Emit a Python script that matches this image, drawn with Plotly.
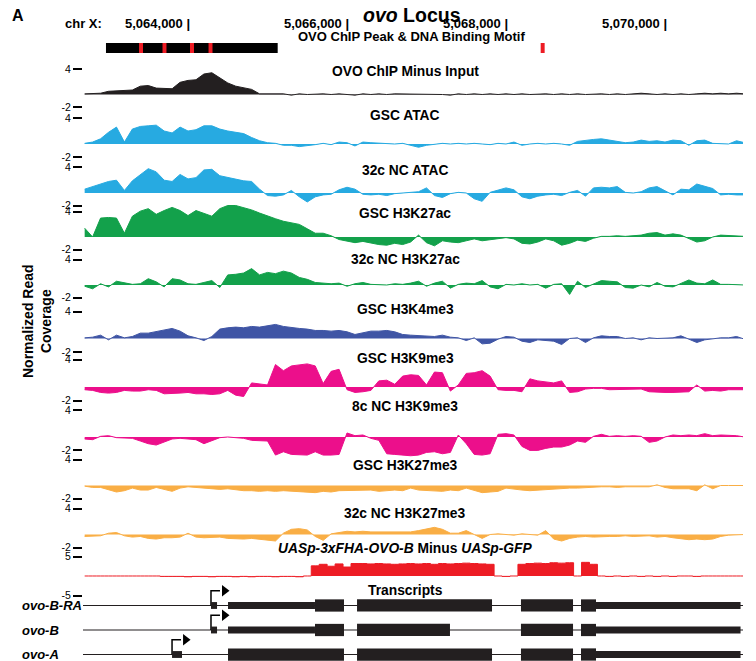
import plotly.graph_objects as go

FONT = "Arial, Liberation Sans, sans-serif"
W, H = 756, 661
PAGE_OFFSET = 8          # page body margin, figure is drawn inside it
FW, FH = W - PAGE_OFFSET, H - PAGE_OFFSET

# genome window on chr X, signal sampled in 100 bp bins
view_start = 5062629
view_end = 5070931
bin_start = 5062650
bin_size = 100
coords = [bin_start + bin_size * i for i in range(84)]

coord_ticks = [5064000, 5066000, 5068000, 5070000]

# OVO ChIP peak and binding motifs
peak_start, peak_end = 5062918, 5065078
motif_sites = [5063359, 5063654, 5064000, 5064233, 5068411]
motif_width = 50

track_names = [
    "OVO ChIP Minus Input", "GSC ATAC", "32c NC ATAC", "GSC H3K27ac",
    "32c NC H3K27ac", "GSC H3K4me3", "GSC H3K9me3", "8c NC H3K9me3",
    "GSC H3K27me3", "32c NC H3K27me3",
    "<i>UASp-3xFHA-OVO-B</i> Minus <i>UASp-GFP</i>",
]
track_colors = ["#231f20", "#27aae1", "#27aae1", "#13a14b", "#13a14b", "#3f55a5",
                "#ec0f8b", "#ec0f8b", "#f9ae45", "#f9ae45", "#ed1c24"]

ovo_chip = [0.1, 0.1, 0.2, 0.5, 0.6, 0.6, 0.7, 1.3, 1.4, 1.0, 1.0, 0.9,
            1.9, 2.2, 2.3, 3.2, 3.4, 2.6, 1.8, 1.3, 1.0, 0.8, 0.1, 0.1,
            0.0, 0.1, -0.1, 0.1, 0.0, 0.1, 0.1, 0.0, 0.1, 0.0, -0.1, 0.1,
            0.0, 0.1, 0.0, 0.1, 0.1, 0.0, 0.1, 0.0, 0.1, 0.0, -0.1, 0.1,
            0.0, 0.1, 0.0, 0.1, 0.0, 0.1, 0.0, 0.1, 0.0, 0.1, 0.1, 0.0,
            0.1, 0.0, 0.1, 0.0, 0.1, 0.1, 0.0, 0.1, 0.0, 0.1, 0.2, 0.1,
            0.0, 0.1, 0.0, 0.1, 0.0, 0.1, 0.2, 0.1, 0.2, 0.1, 0.2, 0.1]

gsc_atac = [0.1, 0.3, 0.8, 1.8, 2.6, 0.3, 2.3, 2.7, 2.8, 2.9, 2.0, 1.7,
            2.6, 2.0, 2.2, 2.8, 2.8, 2.3, 2.0, 1.8, 1.6, 1.0, 0.5, 0.2,
            0.1, -0.2, -0.2, -0.4, -0.3, -0.1, 0.1, -0.1, 0.3, 0.2, -0.3, 0.3,
            0.2, 0.1, 0.1, 0.0, 0.1, -0.2, -0.5, -0.2, 0.0, 0.1, 0.0, 0.1,
            0.0, 0.1, 0.0, -0.1, 0.1, 0.0, 0.3, -0.2, 0.0, 0.1, 0.0, 0.1,
            0.0, -0.2, 0.4, 0.6, 0.7, 0.8, 0.6, 0.5, 0.2, 0.3, 0.6, 0.4,
            0.5, 0.3, 0.6, 0.5, -0.2, 0.5, 0.6, 0.1, 0.1, 0.0, 0.5, 0.2]

nc32_atac = [0.6, 1.0, 1.4, 1.8, 2.0, 0.4, 1.9, 2.8, 3.8, 3.3, 2.0, 1.8,
             2.9, 2.2, 2.4, 3.6, 3.7, 2.7, 2.4, 2.1, 1.9, 1.8, 0.6, -0.4,
             -0.5, -0.3, 0.4, -0.6, -1.4, -0.6, -0.3, -0.2, 0.5, 0.9, 0.6, -0.2,
             -0.3, -0.2, -0.4, -0.1, 0.0, 0.1, 0.2, 0.8, -0.4, -0.7, -0.1, 0.1,
             0.0, -0.9, -1.3, 0.1, 0.4, 0.8, 0.5, -0.6, -0.9, -0.5, -0.3, -0.2,
             -0.4, 0.1, 0.4, -0.5, 0.8, 0.9, 0.8, 1.0, 0.1, 0.0, 0.2, 0.8,
             1.0, 0.3, -0.3, 0.6, 0.5, 1.4, 1.0, 0.7, -0.3, -0.2, -0.3, -0.3]

gsc_k27ac = [1.4, 0.0, 3.0, 3.1, 3.0, 0.6, 3.3, 4.1, 4.5, 3.6, 4.2, 4.7,
             4.2, 3.4, 4.2, 3.8, 3.3, 4.5, 5.0, 5.0, 4.7, 4.3, 3.8, 3.3,
             2.9, 2.5, 2.2, 2.0, 1.3, 0.6, 0.6, 0.2, -0.4, -0.6, -0.9, -0.7,
             -1.0, -1.2, -1.3, -1.0, -1.2, -0.8, 0.3, -0.9, -1.4, -0.6, -0.8, -0.9,
             -0.6, -0.3, -0.6, -0.4, -0.2, -0.1, -0.3, -1.0, -1.1, -0.8, -0.3, -0.6,
             -1.3, -1.0, -0.5, -0.7, -0.2, 0.1, 0.1, 0.2, 0.1, 0.2, 0.3, 0.6,
             0.7, 0.3, 0.5, 0.3, -0.3, -0.8, -0.6, 0.0, 0.3, 0.2, 0.1, 0.1]

nc32_k27ac = [-0.2, -0.6, 0.2, -0.3, 0.6, 0.4, 0.1, 0.2, 1.0, 0.5, -0.3, 1.0,
              0.8, 0.2, 0.1, 0.4, 0.7, -0.4, 1.6, 1.7, 1.9, 2.6, 1.6, 2.0,
              1.8, 2.2, 1.9, 1.2, 0.9, 0.4, 0.3, 0.2, 0.3, -0.2, 0.2, 0.4,
              0.1, 0.1, 0.0, 0.2, 0.1, 0.3, 0.6, -0.2, 0.3, 0.6, -0.5, 0.1,
              0.3, 0.2, 0.7, -0.3, -0.6, 0.1, 0.0, 0.2, 0.0, 0.1, -0.5, 0.1,
              0.2, -1.5, 0.6, -0.4, 0.2, 0.7, 0.6, 0.5, -0.4, -0.5, 0.0, -0.3,
              0.4, -0.2, -0.3, 0.3, 0.8, 0.3, 0.2, 0.8, 0.1, 0.1, 0.1, 0.0]

gsc_k4me3 = [0.1, 0.2, 0.5, -0.2, 0.5, 0.1, 0.3, 0.8, 0.8, 1.0, 1.3, 1.5,
             1.1, 0.4, 0.1, -0.3, 0.3, 1.4, 1.6, 1.7, 1.6, 1.8, 1.7, 1.9,
             2.1, 1.8, 1.6, 1.5, 1.4, 1.2, 1.2, 1.1, 1.2, 1.0, 0.6, 0.9,
             1.1, 1.1, 1.2, 1.0, 0.6, 0.5, 0.4, 0.4, 0.3, 0.5, 0.2, 0.1,
             -0.3, 0.1, -0.8, -0.7, -0.1, 0.3, 0.2, -0.4, -0.6, -0.2, -0.3, -0.4,
             -0.9, 0.0, 0.1, -0.6, 0.1, 0.4, 0.3, 0.3, 0.0, 0.1, -0.2, 0.1,
             0.0, 0.1, 0.1, 0.4, -0.1, -0.6, -0.2, 0.0, 0.1, 0.1, 0.3, -0.1]

gsc_k9me3 = [-0.4, -0.5, -0.8, -0.9, -0.8, -0.5, -0.6, -0.6, -0.4, -0.5, -1.0, -1.0,
             -0.9, -0.8, -1.0, -1.0, -1.1, -1.0, -0.5, -1.2, -1.4, 0.6, 0.4, 0.3,
             3.3, 2.4, 3.1, 3.3, 3.4, 3.1, 0.5, 2.3, 2.6, -0.4, -0.8, -0.7,
             -0.5, 0.9, 1.0, 0.4, 1.6, 1.8, 1.7, 0.3, 2.2, 2.1, -0.6, 0.3,
             2.0, 2.1, 2.4, 1.6, -0.4, -0.5, -0.5, -0.7, 1.2, 0.9, 0.7, 0.6,
             0.9, -0.8, -0.7, -0.3, -0.2, -0.2, -0.4, -0.4, -0.4, -0.3, -0.3, -0.7,
             -0.8, -0.8, -0.8, -0.8, -0.7, 0.3, -0.6, -0.5, -0.6, -0.4, -0.4, -0.4]

nc8_k9me3 = [-0.3, -0.4, 0.1, 0.2, -0.1, -0.1, -0.2, -0.6, -1.0, -1.2, -0.8, -0.3,
             -0.2, -0.3, -0.4, -1.0, -0.5, -0.1, 0.0, -0.1, -0.2, -0.5, -0.5, -0.6,
             -2.7, -2.2, -2.6, -2.7, -2.7, -2.2, -2.7, -2.7, -2.6, 0.6, 0.2, 0.3,
             -0.2, -0.5, -2.5, -2.6, -2.7, -2.8, -2.7, -2.3, -2.2, -2.5, -2.3, 0.3,
             -1.0, -2.6, -2.7, -2.5, 0.4, 0.5, 0.3, -1.4, -2.0, -2.0, -1.7, -1.5,
             -1.5, -1.2, -0.6, -0.8, 0.1, 0.4, 0.1, 0.2, 0.1, 0.2, 0.1, -0.8,
             -0.6, 0.0, 0.3, 0.2, 0.3, 0.2, 0.5, 0.2, 0.3, 0.3, 0.2, 0.0]

gsc_k27me3 = [-0.1, -0.3, -0.3, -0.6, -1.0, -0.8, -0.4, -0.7, -0.7, -0.3, -0.6, -0.9,
              -0.4, -0.2, -0.3, -0.4, -0.5, -0.6, -0.5, -0.7, -0.8, -0.8, -0.9, -0.8,
              -0.9, -0.8, -0.9, -1.0, -1.0, -1.1, -0.9, -1.0, -0.8, -0.8, -0.7, -0.8,
              -0.7, -0.9, -0.8, -0.7, -0.8, -0.4, -0.7, -0.8, -0.8, -0.9, -0.7, -0.8,
              -0.4, -0.8, -1.1, -1.0, -0.9, -0.4, -0.6, -0.7, -0.8, -0.7, -0.6, -0.5,
              -0.4, -0.4, -0.4, -0.3, -0.3, -0.2, -0.2, -0.3, -0.2, -0.2, -0.1, -0.2,
              0.1, -0.3, -0.5, -0.5, -0.5, -0.8, 0.1, -0.5, 0.0, 0.0, 0.0, 0.0]

nc32_k27me3 = [-0.3, -0.3, -0.2, 0.2, 0.3, -0.2, -0.4, -0.3, -0.6, -0.7, -0.5, -0.5,
               -0.4, 0.2, -0.4, -0.5, -0.5, -0.4, -0.6, -0.7, -0.7, -0.6, -0.7, -0.8,
               -1.0, 0.2, 0.8, 0.9, 0.7, -0.3, -0.9, 0.1, 0.3, 0.5, 0.4, 0.5,
               0.4, 0.4, 0.3, 0.4, 0.3, 0.4, 0.6, 0.9, 1.1, 0.8, 0.2, 0.2,
               0.6, 0.0, -0.6, 0.0, 0.1, 0.0, -0.1, 0.1, 0.0, -0.1, 0.6, -0.7,
               -1.0, -0.6, -0.4, -0.3, -0.4, -0.3, -0.3, -0.3, -0.2, -0.3, -0.3, -0.2,
               -0.4, -0.3, -0.5, -0.6, -0.8, -0.7, -0.8, -0.7, -0.3, -0.1, 0.0, 0.0]

ovo_b_minus_gfp = [0.0, 0.0, 0.0, 0.0, 0.0, 0.0, 0.0, 0.0, 0.0, 0.0, -0.1, -0.1,
                   -0.1, -0.2, -0.1, -0.1, -0.2, -0.1, -0.1, -0.2, -0.1, -0.2, -0.1, -0.1,
                   -0.2, -0.1, -0.1, -0.2, 0.0, 2.6, 3.0, 2.5, 3.1, 2.3, 3.2, 3.2,
                   3.1, 3.2, 3.1, 3.0, 3.1, 3.2, 3.1, 3.2, 3.0, 3.2, 3.1, 3.2,
                   3.3, 3.2, 3.1, 3.0, 0.0, -0.1, 0.0, 3.0, 3.2, 3.3, 3.2, 3.4,
                   3.3, 3.4, 0.0, 3.5, 3.0, 0.0, -0.1, 0.0, -0.1, 0.0, -0.1, 0.0,
                   -0.1, 0.0, -0.1, 0.0, 0.0, -0.1, 0.0, 0.0, 0.0, 0.0, 0.0, 0.0]

track_values = [ovo_chip, gsc_atac, nc32_atac, gsc_k27ac, nc32_k27ac, gsc_k4me3,
                gsc_k9me3, nc8_k9me3, gsc_k27me3, nc32_k27me3, ovo_b_minus_gfp]

# transcripts: (start, end, kind)
transcript_names = ["ovo-B-RA", "ovo-B", "ovo-A"]
transcript_tss = [5064239, 5064239, 5063749]
ovo_b_ra_exons = [(5064239, 5064315, "utr"), (5064453, 5065547, "utr"), (5065547, 5065912, "cds"),
                  (5066076, 5067774, "cds"), (5068138, 5068793, "cds"), (5068893, 5069082, "cds"),
                  (5069082, 5070900, "utr")]
ovo_b_exons = [(5064239, 5064315, "utr"), (5064453, 5065547, "utr"), (5065547, 5065912, "cds"),
               (5066076, 5067245, "cds"), (5068138, 5068793, "cds"), (5068893, 5069082, "cds"),
               (5069082, 5070900, "utr")]
ovo_a_exons = [(5063749, 5063874, "utr"), (5064453, 5065912, "cds"), (5066076, 5067774, "cds"),
               (5068138, 5068793, "cds"), (5068893, 5069082, "cds"), (5069082, 5070900, "utr")]
transcript_exons = [ovo_b_ra_exons, ovo_b_exons, ovo_a_exons]

# layout geometry, in page pixels
track_zero_px = [94.5, 144, 193, 237, 285, 338.5, 387, 437, 485.5, 534.5, 576]
track_ppu = [6.4, 6.5, 6.4, 6.3, 6.3, 6.7, 6.8, 6.7, 6.5, 6.5, 3.9]
track_label_px = [71, 116, 170, 213, 260, 309, 358, 406, 465, 513, 548]


def fx(p):
    return (p - PAGE_OFFSET) / FW


def fy(p):
    return 1 - (p - PAGE_OFFSET) / FH


fig = go.Figure()

for k, (color, vals) in enumerate(zip(track_colors, track_values), start=1):
    fig.add_trace(go.Scatter(
        x=coords, y=vals, xaxis="x", yaxis="y" if k == 1 else f"y{k}",
        mode="lines", line=dict(color=color, width=1, shape="hvh" if k == 11 else "linear"),
        fill="tozeroy", fillcolor=color, hoverinfo="skip", showlegend=False,
    ))

layout = dict(
    width=FW, height=FH, margin=dict(l=0, r=0, t=0, b=0),
    paper_bgcolor="white", plot_bgcolor="rgba(0,0,0,0)",
    font=dict(family=FONT, color="black"),
    xaxis=dict(domain=[fx(83), fx(743)], range=[view_start, view_end], visible=False, fixedrange=True),
)

for k in range(1, 12):
    zero, ppu = track_zero_px[k - 1], track_ppu[k - 1]
    if k == 11:
        lo, hi, tv = -6, 6, [5, -5]
    else:
        lo, hi, tv = -3.2, 5.6, [4, -2]
    top = zero - hi * ppu
    bot = zero - lo * ppu
    key = "yaxis" if k == 1 else f"yaxis{k}"
    layout[key] = dict(
        domain=[max(0, fy(bot)), min(1, fy(top))], range=[lo, hi], anchor="x",
        tickvals=tv, ticktext=[str(t) for t in tv], ticks="outside", ticklen=9,
        tickwidth=1.5, tickcolor="black", tickfont=dict(family=FONT, size=10.5, color="black"),
        showgrid=False, zeroline=False, showline=False, fixedrange=True, automargin=False,
    )

# transcript axis: rows 0..2
layout["yaxis12"] = dict(domain=[0, fy(580)], range=[2.265, -1.04], anchor="x",
                         visible=False, fixedrange=True)

shapes = []
for row, exons in enumerate(transcript_exons):
    fig.add_trace(go.Scatter(x=[view_start, view_end], y=[row, row], xaxis="x", yaxis="y12",
                             mode="lines", line=dict(color="#231f20", width=1.2),
                             hoverinfo="skip", showlegend=False))
    for s, e, kind in exons:
        half = 0.25 if kind == "cds" else 0.14
        shapes.append(dict(type="rect", xref="x", yref="y12", x0=s, x1=e,
                           y0=row - half, y1=row + half, fillcolor="#231f20", line=dict(width=0)))
    t = transcript_tss[row]
    fig.add_trace(go.Scatter(x=[t, t, t + 113], y=[row, row - 0.6, row - 0.6], xaxis="x", yaxis="y12",
                             mode="lines", line=dict(color="black", width=1.5),
                             hoverinfo="skip", showlegend=False))
    fig.add_trace(go.Scatter(x=[t + 170], y=[row - 0.6], xaxis="x", yaxis="y12", mode="markers",
                             marker=dict(symbol="triangle-right", size=10, color="black"),
                             hoverinfo="skip", showlegend=False))

# peak and motifs
shapes.append(dict(type="rect", xref="x", yref="paper", x0=peak_start, x1=peak_end,
                   y0=fy(53), y1=fy(43), fillcolor="black", line=dict(width=0)))
for m in motif_sites:
    shapes.append(dict(type="rect", xref="x", yref="paper", x0=m - motif_width / 2, x1=m + motif_width / 2,
                       y0=fy(53), y1=fy(43), fillcolor="#ed1c24", line=dict(width=0)))
layout["shapes"] = shapes


def label(text, x, y, size, xanchor="center", xref="paper", yref="paper", **kw):
    return dict(text=text, x=x, y=y, xref=xref, yref=yref, xanchor=xanchor, yanchor="middle",
                showarrow=False, font=dict(size=size), **kw)


ann = [
    label("<b>A</b>", fx(10), fy(16), 16, xanchor="left"),
    label("<b><i>ovo</i> Locus</b>", fx(412), fy(15), 19.5),
    label("<b>chr X:</b>", fx(63), fy(23), 13, xanchor="left"),
]
for c in coord_ticks:
    ann.append(label(f"<b>{c:,} |</b>", c, fy(23.5), 13, xanchor="right", xref="x"))
ann.append(label("<b>OVO ChIP Peak &amp; DNA Binding Motif</b>", fx(411), fy(36.5), 13))
for name, ly in zip(track_names, track_label_px):
    ann.append(label(f"<b>{name}</b>", fx(405), fy(ly), 13.8))
ann.append(label("<b>Transcripts</b>", fx(405), fy(590), 13.8))
for row, name in enumerate(transcript_names):
    ann.append(label(f"<b><i>{name}</i></b>", fx(20), row, 13, xanchor="left", yref="y12"))
ann.append(label("<b>Normalized Read<br>Coverage</b>", fx(37), fy(321), 14, textangle=-90))
layout["annotations"] = ann

fig.update_layout(**layout)
fig.write_html("out.html")
